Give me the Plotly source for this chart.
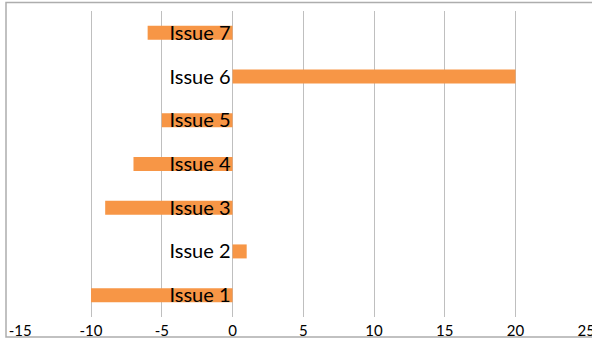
import plotly.graph_objects as go

categories = ["Issue 1", "Issue 2", "Issue 3", "Issue 4", "Issue 5", "Issue 6", "Issue 7"]
values = [-10, 1, -9, -7, -5, 20, -6]
x_ticks = [-15, -10, -5, 0, 5, 10, 15, 20, 25]

W, H = 592, 339
ml, mr, mt, mb = 20, 5, 11, 22
xmin, xmax = -15.02, 25.05

fig = go.Figure(go.Bar(
    y=categories, x=values, orientation="h",
    marker=dict(color="#F79646", line=dict(width=0)),
))

fig.update_layout(
    width=W, height=H,
    margin=dict(l=ml, r=mr, t=mt, b=mb, autoexpand=False),
    paper_bgcolor="white", plot_bgcolor="white",
    bargap=0.68, showlegend=False,
    font=dict(family="Lato, Carlito, sans-serif", color="#000000"),
)
fig.update_xaxes(
    range=[xmin, xmax], tickvals=x_ticks, ticktext=[str(t) for t in x_ticks],
    showgrid=True, gridcolor="#BFBFBF", gridwidth=1,
    zeroline=True, zerolinecolor="#BFBFBF", zerolinewidth=1,
    showline=False, ticks="", tickfont=dict(size=15, color="#000000"),
    ticklabeloverflow="allow", ticklabelstandoff=3,
    automargin=False, fixedrange=True,
)
fig.update_yaxes(
    anchor="free", position=(0 - xmin) / (xmax - xmin),
    showgrid=False, zeroline=False, showline=False, ticks="",
    tickfont=dict(size=20, color="#000000"), ticklabelstandoff=2,
    automargin=False, fixedrange=True,
)

# outer chart frame
pw = W - ml - mr
ph = H - mt - mb
fig.add_shape(
    type="rect", xref="paper", yref="paper",
    x0=(6 - ml) / pw, x1=(W + 10 - ml) / pw,
    y0=-(337 - (H - mb)) / ph, y1=1 + (mt - 2.5) / ph,
    line=dict(color="#ADADAD", width=1.5), fillcolor="rgba(0,0,0,0)", layer="below",
)

fig.write_html("out.html", config={"displayModeBar": False})
